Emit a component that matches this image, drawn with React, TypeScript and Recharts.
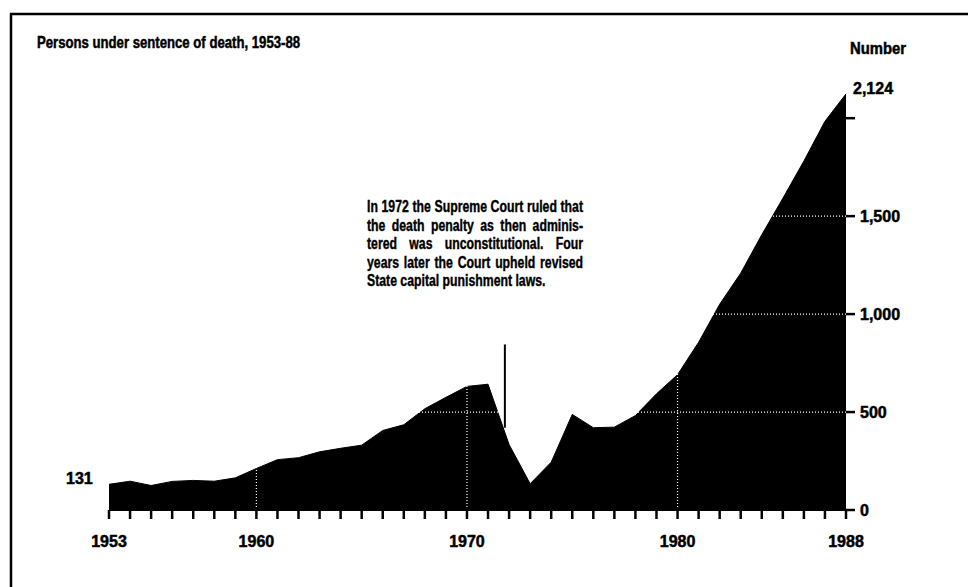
import { Area, AreaChart, ReferenceLine, XAxis, YAxis } from "recharts";

const years = [
  1953, 1954, 1955, 1956, 1957, 1958, 1959, 1960, 1961, 1962, 1963, 1964,
  1965, 1966, 1967, 1968, 1969, 1970, 1971, 1972, 1973, 1974, 1975, 1976,
  1977, 1978, 1979, 1980, 1981, 1982, 1983, 1984, 1985, 1986, 1987, 1988,
];
const counts = [
  131, 147, 125, 146, 151, 147, 164, 212, 257, 267, 297, 315,
  331, 406, 435, 517, 575, 631, 642, 334, 134, 244, 488, 420,
  423, 482, 593, 691, 856, 1050, 1209, 1405, 1591, 1781, 1984, 2124,
];
const labelYears = [1953, 1960, 1970, 1980, 1988];
const yTicks = [0, 500, 1000, 1500, 2000];
const gridYears = [1960, 1970, 1980];
const gridValues = [500, 1000, 1500];

const data = years.map((year, i) => ({ year, count: counts[i] }));

const title = "Persons under sentence of death, 1953-88";
const note = [
  "In 1972 the Supreme Court ruled that",
  "the death penalty as then adminis-",
  "tered was unconstitutional.  Four",
  "years later the Court upheld revised",
  "State capital punishment laws.",
];

const FONT = "'Liberation Sans', Arial, sans-serif";
// a thin outline makes the bold face a bit heavier, closer to the print
const heavy = { stroke: "#000", strokeWidth: 0.5 };

function XTick(props: any) {
  const { x, y, payload } = props;
  if (!labelYears.includes(payload.value)) return <g />;
  return (
    <text x={x} y={y + 26} textAnchor="middle" fontFamily={FONT} fontWeight="bold" fontSize={16} fill="#000" {...heavy}>
      {payload.value}
    </text>
  );
}

function YTick(props: any) {
  const { x, y, payload } = props;
  if (payload.value === 2000) return <g />;
  return (
    <text x={x + 3} y={y + 6} textAnchor="start" fontFamily={FONT} fontWeight="bold" fontSize={16} fill="#000" {...heavy}>
      {payload.value.toLocaleString("en-US")}
    </text>
  );
}

export default function App() {
  return (
    <div style={{ position: "absolute", left: 0, top: 0, width: 968, height: 587, background: "#fff" }}>
      <AreaChart width={968} height={587} data={data} margin={{ top: 79, right: 62, bottom: 0, left: 109 }}>
        <XAxis
          dataKey="year"
          type="number"
          domain={[1953, 1988]}
          ticks={years}
          interval={0}
          height={77}
          tickSize={9}
          axisLine={{ stroke: "#000", strokeWidth: 2 }}
          tickLine={{ stroke: "#000", strokeWidth: 2.5 }}
          tick={<XTick />}
        />
        <YAxis
          orientation="right"
          domain={[0, 2200]}
          ticks={yTicks}
          width={60}
          tickSize={9}
          axisLine={false}
          tickLine={{ stroke: "#000", strokeWidth: 2.5 }}
          tick={<YTick />}
        />
        <Area
          dataKey="count"
          type="linear"
          stroke="#000"
          strokeWidth={1}
          fill="#000"
          fillOpacity={1}
          isAnimationActive={false}
        />
        {gridValues.map((v) => (
          <ReferenceLine key={"h" + v} y={v} stroke="#fff" strokeWidth={1.2} strokeDasharray="1 2" />
        ))}
        {gridYears.map((yr) => (
          <ReferenceLine key={"v" + yr} x={yr} stroke="#fff" strokeWidth={1.2} strokeDasharray="1 2" />
        ))}
        <ReferenceLine
          segment={[
            { x: 1971.8, y: 420 },
            { x: 1971.8, y: 845 },
          ]}
          stroke="#000"
          strokeWidth={2}
        />
      </AreaChart>

      <svg width={968} height={587} style={{ position: "absolute", left: 0, top: 0, pointerEvents: "none" }}>
        <line x1={10} y1={14} x2={968} y2={14} stroke="#000" strokeWidth={2.5} />
        <line x1={11} y1={13} x2={11} y2={587} stroke="#000" strokeWidth={2.5} />
        <text x={37} y={48} fontFamily={FONT} fontWeight="bold" fontSize={17} textLength={263} lengthAdjust="spacingAndGlyphs" {...heavy}>
          {title}
        </text>
        <text x={850} y={54} fontFamily={FONT} fontWeight="bold" fontSize={16} textLength={56} lengthAdjust="spacingAndGlyphs" {...heavy}>
          Number
        </text>
        <text x={853} y={94} fontFamily={FONT} fontWeight="bold" fontSize={16} {...heavy}>
          2,124
        </text>
        <text x={66} y={484} fontFamily={FONT} fontWeight="bold" fontSize={16} {...heavy}>
          131
        </text>
      </svg>

      <div
        style={{
          position: "absolute",
          left: 367,
          top: 198,
          width: 282,
          transform: "scaleX(0.766)",
          transformOrigin: "0 0",
          fontFamily: FONT,
          fontWeight: "bold",
          fontSize: 16,
          lineHeight: "18.6px",
          color: "#000",
          WebkitTextStroke: "0.4px #000",
        }}
      >
        {note.map((line, i) => (
          <div
            key={i}
            style={{
              whiteSpace: "nowrap",
              textAlign: "justify",
              textAlignLast: i === note.length - 1 ? "left" : "justify",
            }}
          >
            {line}
          </div>
        ))}
      </div>
    </div>
  );
}
